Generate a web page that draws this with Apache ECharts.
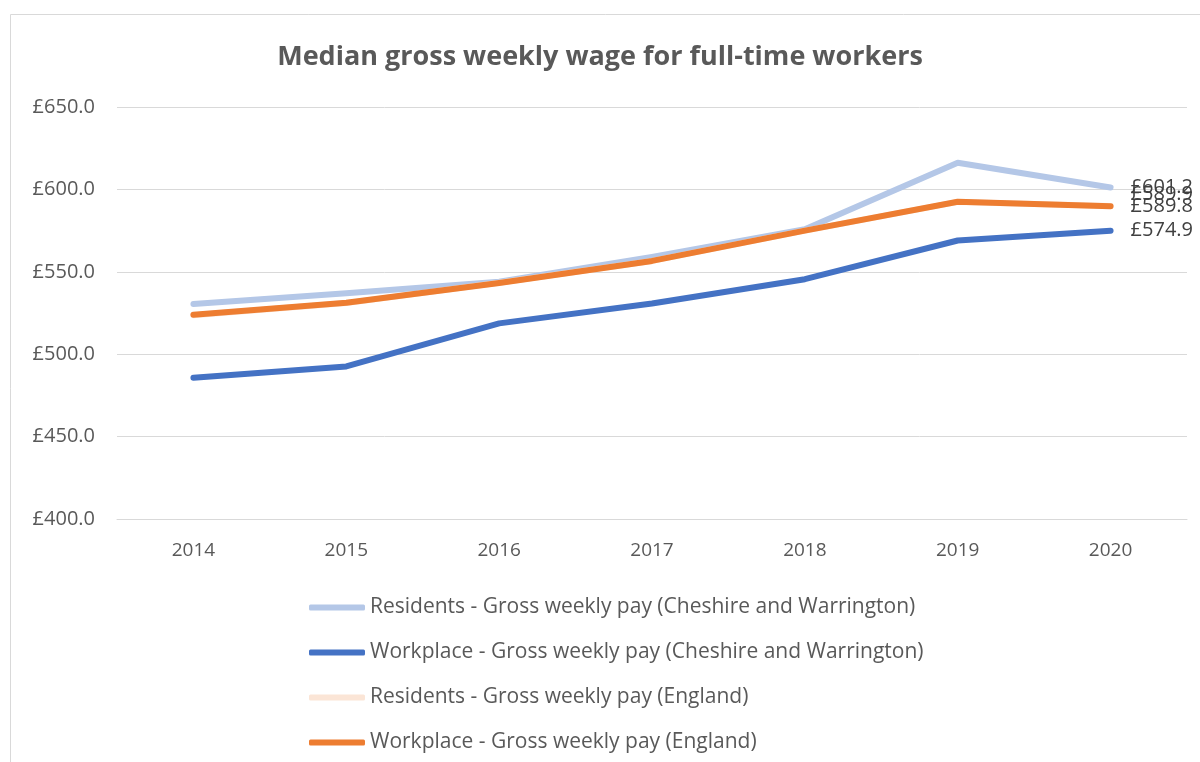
<!DOCTYPE html>
<html>
<head>
<meta charset="utf-8">
<title>Median gross weekly wage</title>
<script src="https://cdn.jsdelivr.net/npm/echarts@6/dist/echarts.min.js"></script>
<style>
  html, body { margin: 0; padding: 0; background: #fff; }
  #chart { width: 1200px; height: 762px; }
</style>
</head>
<body>
<div id="chart"></div>
<script>
// years on the x axis
const years = ['2014', '2015', '2016', '2017', '2018', '2019', '2020'];

// weekly pay, £
const residentsCW = [530.5, 537.0, 544.0, 559.0, 575.8, 616.2, 601.2];
const workplaceCW = [485.7, 492.6, 518.7, 530.8, 545.5, 569.0, 574.9];
const residentsEng = [523.6, 531.0, 543.4, 556.6, 575.0, 592.4, 589.9];
const workplaceEng = [524.0, 531.2, 543.2, 556.6, 575.0, 592.5, 589.8];

const seriesNames = [
  'Residents - Gross weekly pay (Cheshire and Warrington)',
  'Workplace - Gross weekly pay (Cheshire and Warrington)',
  'Residents - Gross weekly pay (England)',
  'Workplace - Gross weekly pay (England)'
];
const seriesColors = ['#B4C7E7', '#4472C4', '#FBE5D6', '#ED7D31'];
const seriesData = [residentsCW, workplaceCW, residentsEng, workplaceEng];
// excel nudged the overlapping end label up a little
const labelOffsets = [[0, 0], [0, 0], [0, -12], [0, 0]];

const font = '"Open Sans", Lato, sans-serif';

const chart = echarts.init(document.getElementById('chart'));

chart.setOption({
  animation: false,
  textStyle: { fontFamily: font },
  title: {
    text: 'Median gross weekly wage for full-time workers',
    left: 'center',
    top: 39,
    textStyle: { fontSize: 27, fontWeight: 'bold', color: '#595959', fontFamily: font }
  },
  graphic: [{
    type: 'rect',
    shape: { x: 10.5, y: 14.5, width: 1200, height: 760 },
    style: { fill: 'none', stroke: '#d9d9d9', lineWidth: 1 },
    silent: true
  }],
  grid: { left: 117, right: 13, top: 107, bottom: 243 },
  legend: {
    orient: 'vertical',
    left: 304,
    top: 592,
    itemWidth: 56,
    itemHeight: 6,
    itemGap: 24,
    icon: 'roundRect',
    textStyle: { fontSize: 21, color: '#595959', fontFamily: font },
    data: seriesNames
  },
  xAxis: {
    type: 'category',
    data: years,
    axisLine: { lineStyle: { color: '#d9d9d9' } },
    axisTick: { show: false },
    axisLabel: { fontSize: 19, color: '#595959', margin: 22 }
  },
  yAxis: {
    type: 'value',
    min: 400,
    max: 650,
    interval: 50,
    axisLabel: {
      fontSize: 20,
      color: '#595959',
      margin: 22,
      formatter: (v) => '£' + v.toFixed(1)
    },
    splitLine: { lineStyle: { color: '#d9d9d9' } }
  },
  series: seriesData.map((d, i) => ({
    name: seriesNames[i],
    type: 'line',
    data: d,
    showSymbol: false,
    symbol: 'none',
    color: seriesColors[i],
    lineStyle: { width: 6, color: seriesColors[i], cap: 'round', join: 'round' },
    endLabel: {
      show: true,
      distance: 20,
      offset: labelOffsets[i],
      fontSize: 20,
      color: '#404040',
      formatter: (p) => '£' + p.value.toFixed(1)
    }
  }))
});
</script>
</body>
</html>
